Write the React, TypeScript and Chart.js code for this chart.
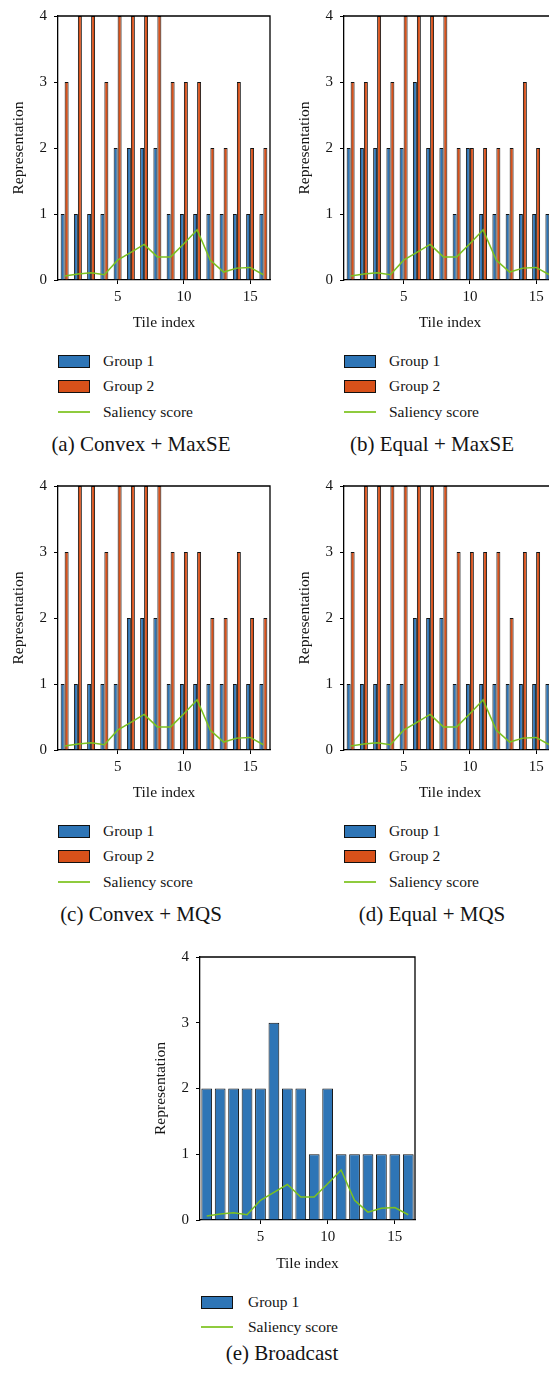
import React, { useEffect, useRef } from 'react';
import { Chart, registerables } from 'chart.js';

Chart.register(...registerables);
Chart.defaults.font.family = '"Liberation Serif", "DejaVu Serif", serif';

// ---------- data ----------
const TILES = ['1', '2', '3', '4', '5', '6', '7', '8', '9', '10', '11', '12', '13', '14', '15', '16'];
const X_TICK_LABELS = ['5', '10', '15'];
const Y_MIN = 0;
const Y_MAX = 4;
const Y_STEP = 1;

const SALIENCY = [0.06, 0.09, 0.11, 0.08, 0.3, 0.42, 0.54, 0.35, 0.35, 0.55, 0.76, 0.3, 0.12, 0.18, 0.19, 0.08];

const A_GROUP1 = [1, 1, 1, 1, 2, 2, 2, 2, 1, 1, 1, 1, 1, 1, 1, 1];
const A_GROUP2 = [3, 4, 4, 3, 4, 4, 4, 4, 3, 3, 3, 2, 2, 3, 2, 2];

const B_GROUP1 = [2, 2, 2, 2, 2, 3, 2, 2, 1, 2, 1, 1, 1, 1, 1, 1];
const B_GROUP2 = [3, 3, 4, 3, 4, 4, 4, 4, 2, 2, 2, 2, 2, 3, 2, 2];

const C_GROUP1 = [1, 1, 1, 1, 1, 2, 2, 2, 1, 1, 1, 1, 1, 1, 1, 1];
const C_GROUP2 = [3, 4, 4, 3, 4, 4, 4, 4, 3, 3, 3, 2, 2, 3, 2, 2];

const D_GROUP1 = [1, 1, 1, 1, 1, 2, 2, 2, 1, 1, 1, 1, 1, 1, 1, 1];
const D_GROUP2 = [3, 4, 4, 4, 4, 4, 4, 4, 3, 3, 3, 3, 2, 3, 3, 3];

const E_GROUP1 = [2, 2, 2, 2, 2, 3, 2, 2, 1, 2, 1, 1, 1, 1, 1, 1];

const SERIES_NAMES = ['Group 1', 'Group 2', 'Saliency score'];
const X_TITLE = 'Tile index';
const Y_TITLE = 'Representation';
const CAPTIONS = ['(a) Convex + MaxSE', '(b) Equal + MaxSE', '(c) Convex + MQS', '(d) Equal + MQS', '(e) Broadcast'];

// ---------- style ----------
const BLUE = '#2E75B6';
const ORANGE = '#D8511A';
const GREEN = '#7CC11F';
const LEGEND_GREEN = '#8FCB3E';
const INK = '#141414';
const FONT = '"Liberation Serif", "DejaVu Serif", serif';

const framePlugin = {
  id: 'frame',
  afterDatasetsDraw(chart: any) {
    const { ctx, chartArea } = chart;
    const { left, right, top, bottom } = chartArea;
    ctx.save();
    ctx.strokeStyle = '#000';
    ctx.lineWidth = 1.3;
    ctx.beginPath();
    ctx.moveTo(left, top);
    ctx.lineTo(right, top);
    ctx.lineTo(right, bottom);
    ctx.stroke();
    ctx.restore();
  },
};

type Group = { label: string; data: number[]; color: string };

function BarChart(props: {
  groups: Group[];
  left: number;
  top: number;
  width: number;
  height: number;
  catPct: number;
  barPct: number;
  yW: number;
  xH: number;
  padTop: number;
  padRight: number;
}) {
  const ref = useRef<HTMLCanvasElement>(null);
  const { groups, left, top, width, height, catPct, barPct, yW, xH, padTop, padRight } = props;
  useEffect(() => {
    if (!ref.current) return;
    const datasets: any[] = [
      {
        type: 'line',
        label: SERIES_NAMES[2],
        data: SALIENCY,
        borderColor: GREEN,
        borderWidth: 1.5,
        pointRadius: 0,
        fill: false,
        tension: 0,
        order: 0,
      },
      ...groups.map((g) => ({
        type: 'bar',
        label: g.label,
        data: g.data,
        backgroundColor: g.color,
        borderColor: '#111',
        borderWidth: 1,
        categoryPercentage: catPct,
        barPercentage: barPct,
        order: 1,
      })),
    ];
    const chart = new Chart(ref.current, {
      type: 'bar',
      data: { labels: TILES, datasets },
      plugins: [framePlugin],
      options: {
        responsive: false,
        animation: false,
        devicePixelRatio: 1,
        layout: { padding: { top: padTop, right: padRight, left: 0, bottom: 0 } },
        plugins: { legend: { display: false }, tooltip: { enabled: false } },
        scales: {
          x: {
            type: 'category',
            offset: true,
            grid: {
              display: true,
              drawOnChartArea: false,
              drawTicks: true,
              tickLength: 4,
              offset: false,
              lineWidth: 1,
              color: (ctx: any) =>
                X_TICK_LABELS.includes(TILES[ctx.index]) ? '#000' : 'rgba(0,0,0,0)',
            },
            border: { display: true, color: '#000', width: 1.3 },
            ticks: {
              autoSkip: false,
              maxRotation: 0,
              padding: 4,
              color: INK,
              font: { size: 15 },
              callback: (_v: any, i: number) => (X_TICK_LABELS.includes(TILES[i]) ? TILES[i] : ''),
            },
            title: {
              display: true,
              text: X_TITLE,
              color: INK,
              font: { size: 15.5 },
              padding: { top: 0, bottom: 0 },
            },
            afterFit: (s: any) => {
              s.height = xH;
            },
          },
          y: {
            min: Y_MIN,
            max: Y_MAX,
            grid: {
              display: true,
              drawOnChartArea: false,
              drawTicks: true,
              tickLength: 4,
              color: '#000',
              lineWidth: 1,
            },
            border: { display: true, color: '#000', width: 1.3 },
            ticks: { stepSize: Y_STEP, padding: 7, color: INK, font: { size: 15 } },
            title: {
              display: true,
              text: Y_TITLE,
              color: INK,
              font: { size: 15.5 },
              padding: { top: 10, bottom: 0 },
            },
            afterFit: (s: any) => {
              s.width = yW;
            },
          },
        },
      } as any,
    });
    return () => chart.destroy();
  }, []);
  return (
    <div style={{ position: 'absolute', left, top, width, height }}>
      <canvas ref={ref} width={width} height={height} style={{ display: 'block', width, height }} />
    </div>
  );
}

function Label(props: { x: number; cy: number; text: string; size: number; center?: boolean }) {
  const lh = 26;
  const style: any = {
    position: 'absolute',
    top: props.cy - lh / 2,
    height: lh,
    lineHeight: lh + 'px',
    fontSize: props.size,
    fontFamily: FONT,
    color: INK,
    whiteSpace: 'nowrap',
  };
  if (props.center) {
    style.left = props.x - 200;
    style.width = 400;
    style.textAlign = 'center';
  } else {
    style.left = props.x;
  }
  return <div style={style}>{props.text}</div>;
}

function Legend(props: { x: number; y1: number; rows: { name: string; kind: 'box' | 'line'; color: string }[]; textX: number; gap: number }) {
  const { x, y1, rows, textX, gap } = props;
  return (
    <>
      {rows.map((r, i) => {
        const cy = y1 + i * gap;
        return (
          <React.Fragment key={i}>
            {r.kind === 'box' ? (
              <div
                style={{
                  position: 'absolute',
                  left: x,
                  top: cy - 6.5,
                  width: 32,
                  height: 13,
                  boxSizing: 'border-box',
                  border: '1px solid #111',
                  background: r.color,
                }}
              />
            ) : (
              <div style={{ position: 'absolute', left: x, top: cy - 1, width: 32, height: 2, background: r.color }} />
            )}
            <Label x={textX} cy={cy} text={r.name} size={15.5} />
          </React.Fragment>
        );
      })}
    </>
  );
}

function Panel(props: { ox: number; oy: number; g1: number[]; g2: number[]; caption: string; capX: number }) {
  const { ox, oy, g1, g2, caption, capX } = props;
  return (
    <>
      <BarChart
        left={ox}
        top={oy}
        width={280}
        height={332}
        groups={[
          { label: SERIES_NAMES[0], data: g1, color: BLUE },
          { label: SERIES_NAMES[1], data: g2, color: ORANGE },
        ]}
        catPct={0.6}
        barPct={1}
        yW={58}
        xH={52}
        padTop={12}
        padRight={10}
      />
      <Legend
        x={ox + 58}
        y1={oy + 361}
        gap={25.3}
        textX={ox + 103}
        rows={[
          { name: SERIES_NAMES[0], kind: 'box', color: BLUE },
          { name: SERIES_NAMES[1], kind: 'box', color: ORANGE },
          { name: SERIES_NAMES[2], kind: 'line', color: LEGEND_GREEN },
        ]}
      />
      <Label x={capX} cy={oy + 444} text={caption} size={21} center />
    </>
  );
}

export default function App() {
  return (
    <div
      style={{
        position: 'absolute',
        left: 0,
        top: 0,
        width: 549,
        height: 1374,
        overflow: 'hidden',
        background: '#fff',
      }}
    >
      <Panel ox={0} oy={0} g1={A_GROUP1} g2={A_GROUP2} caption={CAPTIONS[0]} capX={141} />
      <Panel ox={286} oy={0} g1={B_GROUP1} g2={B_GROUP2} caption={CAPTIONS[1]} capX={432} />
      <Panel ox={0} oy={470} g1={C_GROUP1} g2={C_GROUP2} caption={CAPTIONS[2]} capX={141} />
      <Panel ox={286} oy={470} g1={D_GROUP1} g2={D_GROUP2} caption={CAPTIONS[3]} capX={432} />
      <BarChart
        left={142}
        top={941}
        width={283}
        height={332}
        groups={[{ label: SERIES_NAMES[0], data: E_GROUP1, color: BLUE }]}
        catPct={1}
        barPct={0.8}
        yW={58}
        xH={53}
        padTop={12}
        padRight={10}
      />
      <Legend
        x={201}
        y1={1302}
        gap={25.3}
        textX={248}
        rows={[
          { name: SERIES_NAMES[0], kind: 'box', color: BLUE },
          { name: SERIES_NAMES[2], kind: 'line', color: LEGEND_GREEN },
        ]}
      />
      <Label x={282} cy={1353} text={CAPTIONS[4]} size={21} center />
    </div>
  );
}
